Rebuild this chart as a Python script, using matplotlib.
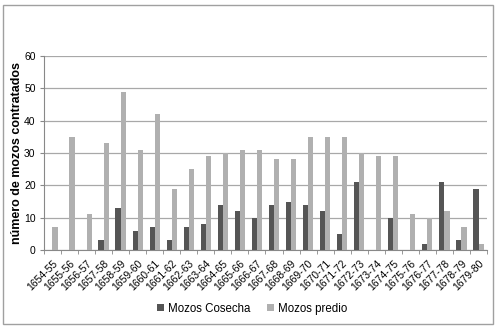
import numpy as np
import matplotlib.pyplot as plt
from matplotlib.patches import Rectangle

# campaign years
seasons = ["1654-55", "1655-56", "1656-57", "1657-58", "1658-59", "1659-60",
           "1660-61", "1661-62", "1662-63", "1663-64", "1664-65", "1665-66",
           "1666-67", "1667-68", "1668-69", "1669-70", "1670-71", "1671-72",
           "1672-73", "1673-74", "1674-75", "1675-76", "1676-77", "1677-78",
           "1678-79", "1679-80"]

mozos_cosecha = [0, 0, 0, 3, 13, 6, 7, 3, 7, 8, 14, 12, 10, 14, 15, 14,
                 12, 5, 21, 0, 10, 0, 2, 21, 3, 19]
mozos_predio = [7, 35, 11, 33, 49, 31, 42, 19, 25, 29, 30, 31, 31, 28, 28,
                35, 35, 35, 30, 29, 29, 11, 10, 12, 7, 2]

plt.rcParams["font.family"] = ["Liberation Sans", "DejaVu Sans"]

fig = plt.figure(figsize=(4.99, 3.29), dpi=100)
ax = fig.add_axes([0.088, 0.240, 0.888, 0.590])

x = np.arange(len(seasons))
w = 0.3
ax.bar(x - w / 2, mozos_cosecha, w, color="#555555", label="Mozos Cosecha", zorder=3)
ax.bar(x + w / 2, mozos_predio, w, color="#b0b0b0", label="Mozos predio", zorder=3)

ax.set_ylim(0, 60)
ax.set_yticks(range(0, 61, 10))
ax.set_xlim(-0.5, len(seasons) - 0.5)
ax.yaxis.grid(True, color="#a8a8a8", linewidth=0.9, zorder=0)

ax.set_xticks(x)
ax.set_xticklabels(seasons, rotation=45, ha="right", rotation_mode="anchor", fontsize=7.5)
ax.set_xticks(np.arange(-0.5, len(seasons)), minor=True)
ax.tick_params(axis="x", which="major", length=0, pad=6)
ax.tick_params(axis="x", which="minor", length=3, color="#888888")
ax.tick_params(axis="y", labelsize=7.5, length=3, color="#888888", pad=3)

for side in ["top", "right"]:
    ax.spines[side].set_visible(False)
ax.spines["left"].set_color("#888888")
ax.spines["bottom"].set_color("#888888")

ax.set_ylabel("número de mozos contratados", fontsize=9, fontweight="bold", labelpad=1)

fig.legend(loc="center", bbox_to_anchor=(0.505, 0.062), ncol=2, frameon=False,
           fontsize=8.3, handlelength=0.6, handleheight=0.6, handletextpad=0.35,
           columnspacing=1.4)

fig.patches.append(Rectangle((0.006, 0.015), 0.982, 0.97, transform=fig.transFigure,
                             fill=False, edgecolor="#a0a0a0", linewidth=1))

fig.savefig("out.png", dpi=100)
